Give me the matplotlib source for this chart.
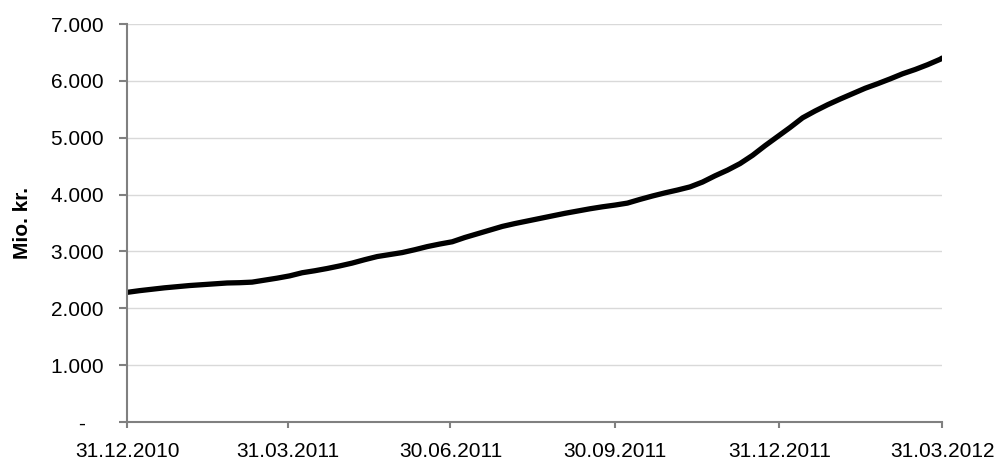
import matplotlib
matplotlib.use("Agg")
import matplotlib.pyplot as plt
import matplotlib.dates as mdates
import pandas as pd

plt.rcParams['font.family'] = ['Liberation Sans', 'DejaVu Sans']

dates = list(pd.date_range("2010-12-31", periods=66, freq="7D")) + [pd.Timestamp("2012-03-31")]
values = [
    2280, 2310, 2335, 2360, 2380, 2400, 2415, 2430, 2445, 2450,
    2460, 2495, 2530, 2570, 2625, 2660, 2700, 2745, 2795, 2855,
    2910, 2945, 2980, 3030, 3085, 3130, 3170, 3245, 3310, 3375,
    3440, 3490, 3535, 3580, 3625, 3670, 3710, 3750, 3785, 3815,
    3850, 3915, 3975, 4030, 4080, 4135, 4220, 4330, 4430, 4545,
    4690, 4860, 5020, 5180, 5350, 5470, 5580, 5680, 5775, 5870,
    5950, 6035, 6125, 6200, 6285, 6380, 6400,
]
xticks = ["2010-12-31", "2011-03-31", "2011-06-30", "2011-09-30", "2011-12-31", "2012-03-31"]
yticks = [0, 1000, 2000, 3000, 4000, 5000, 6000, 7000]
ylabel = "Mio. kr."

fig = plt.figure(figsize=(9.98, 4.63), dpi=100)
ax = fig.add_axes([127 / 998, 1 - 422 / 463, 815 / 998, 398 / 463])

ax.plot(dates, values, color="black", lw=3.8, solid_capstyle="round")

ax.set_xlim(pd.Timestamp(xticks[0]), pd.Timestamp(xticks[-1]))
ax.set_ylim(0, 7000)
ax.set_xticks([pd.Timestamp(d) for d in xticks])
ax.xaxis.set_major_formatter(mdates.DateFormatter("%d.%m.%Y"))

def fmt(v):
    if v == 0:
        return "-    "
    return f"{v:,.0f}".replace(",", ".") + " "

ax.set_yticks(yticks)
ax.set_yticklabels([fmt(v) for v in yticks])
ax.grid(axis="y", color="#d9d9d9", lw=1)
ax.set_axisbelow(True)

for s in ["top", "right"]:
    ax.spines[s].set_visible(False)
for s in ["left", "bottom"]:
    ax.spines[s].set_color("#808080")
    ax.spines[s].set_linewidth(1.5)

ax.tick_params(axis="both", colors="#808080", labelcolor="black", labelsize=15,
               width=1.5, direction="out")
ax.tick_params(axis="y", length=6, pad=7)
ax.tick_params(axis="x", length=4, pad=10.5)

ax.set_ylabel(ylabel, fontsize=15, fontweight="bold")
ax.yaxis.set_label_coords(-0.1166, 0.5)

fig.savefig("out.png", dpi=100)
